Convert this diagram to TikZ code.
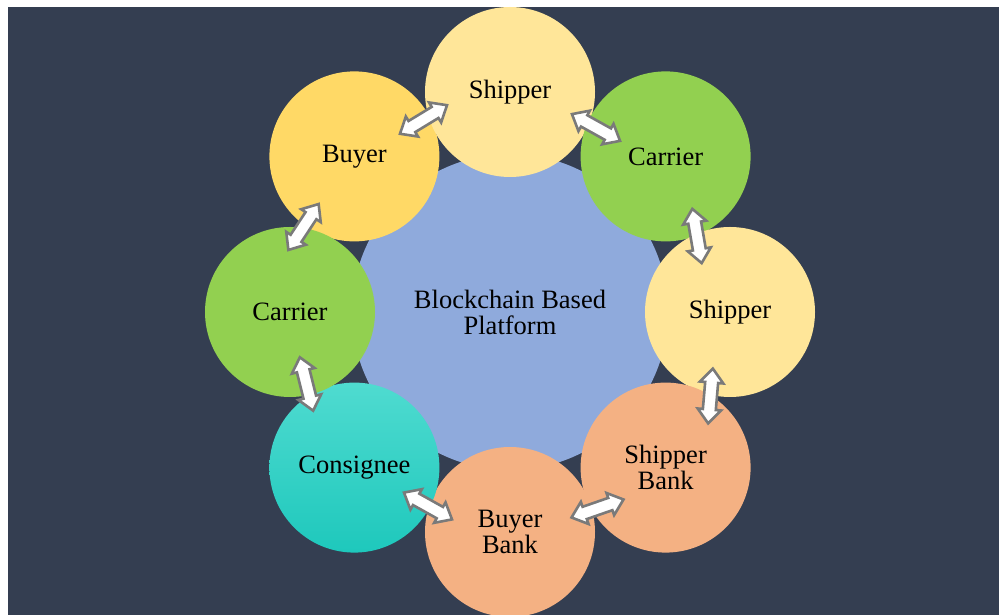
\documentclass[tikz,border=0pt]{standalone}
\usepackage{fontspec}
\setmainfont{Liberation Serif}
\usetikzlibrary{shapes.arrows}
\definecolor{bgnavy}{HTML}{343E51}
\definecolor{hubblue}{HTML}{8FAADC}
\definecolor{shipyellow}{HTML}{FFE699}
\definecolor{buyeryellow}{HTML}{FFD966}
\definecolor{carriergreen}{HTML}{92D050}
\definecolor{bankorange}{HTML}{F4B183}
\definecolor{tealtop}{HTML}{4FDBD0}
\definecolor{tealbottom}{HTML}{1EC8BC}
\definecolor{arrowgray}{HTML}{7A7A7A}
\begin{document}
\begin{tikzpicture}[x=1pt,y=1pt,
  labelfont/.style={font=\fontsize{26.5}{26}\selectfont, text=black, align=center},
  party/.style={circle, minimum size=170pt, inner sep=0pt, labelfont},
  hub/.style={circle, minimum size=316pt, inner sep=0pt, fill=hubblue, labelfont},
  linkarrow/.style={double arrow, draw=arrowgray, fill=white, line width=2.6pt,
    minimum height=55pt, inner sep=5.2pt, double arrow head extend=5.2pt,
    double arrow tip angle=80}
]
\useasboundingbox (0,0) rectangle (999,615);
\fill[bgnavy] (8,0) rectangle (999,608);

% central platform
\node[hub] (hub) at (510,303) {Blockchain Based\\Platform};

% participants around the platform
\node[party, fill=buyeryellow] (buyer) at (354.4,458.6) {Buyer};
\node[party, fill=shipyellow] (shipperTop) at (510,523) {Shipper};
\node[party, fill=carriergreen] (carrierRight) at (665.6,458.6) {Carrier};
\node[party, fill=shipyellow] (shipperRight) at (730,303) {Shipper};
\node[party, fill=bankorange] (shipperBank) at (665.6,147.4) {Shipper\\Bank};
\node[party, fill=bankorange] (buyerBank) at (510,83) {Buyer\\Bank};
\node[party, top color=tealtop, bottom color=tealbottom] (consignee) at (354.4,147.4) {Consignee};
\node[party, fill=carriergreen] (carrierLeft) at (290,303) {Carrier};

% two-way links between neighbours
\node[linkarrow, rotate=31.3] (lnkA) at (423.5,495.5) {};
\node[linkarrow, rotate=-29.1] (lnkB) at (596,487.5) {};
\node[linkarrow, rotate=-80.2] (lnkC) at (697,379) {};
\node[linkarrow, rotate=85.1] (lnkD) at (710.5,219) {};
\node[linkarrow, rotate=19.1] (lnkE) at (597.5,106.5) {};
\node[linkarrow, rotate=-29.2] (lnkF) at (428,109) {};
\node[linkarrow, rotate=-76] (lnkG) at (306.5,231) {};
\node[linkarrow, rotate=56.6] (lnkH) at (303.5,388) {};
\end{tikzpicture}
\end{document}
